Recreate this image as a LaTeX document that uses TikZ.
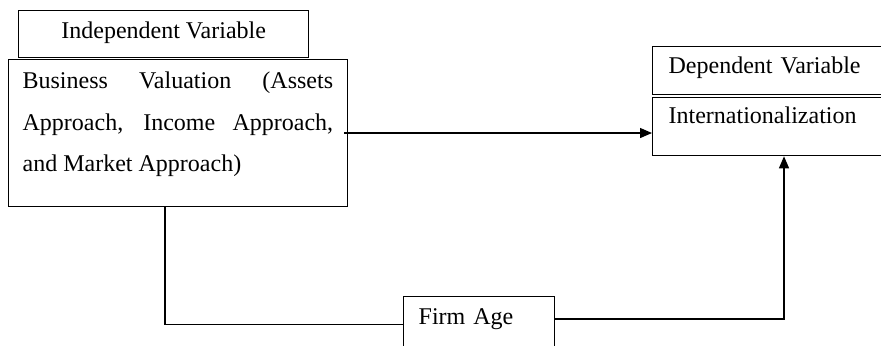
\documentclass[tikz,border=0pt]{standalone}
\usepackage{fontspec}
\setmainfont{Liberation Serif}
\usetikzlibrary{arrows.meta,calc}
\begin{document}
\begin{tikzpicture}[x=0.5pt,y=-0.5pt,
  box/.style={draw=black,line width=0.65pt,inner ysep=0pt,anchor=north west,font=\fontsize{12pt}{20.75pt}\selectfont},
  conn/.style={draw=black,line width=0.65pt},
  arr/.style={conn,-{Triangle[length=6pt,width=5pt]}}]
\useasboundingbox (0,0) rectangle (881,345);
\clip (0,0) rectangle (881,345);
\node[box,minimum width=145pt,inner xsep=0pt,text height=14pt,text depth=9.5pt] (indep) at (18,10) {Independent Variable};
\node[box,inner xsep=7.25pt,text height=14.5pt,text depth=59pt] (biz) at (7.5,59)
  {\parbox[t]{155.25pt}{\fontsize{12pt}{20.75pt}\selectfont Business Valuation (Assets\linebreak Approach, Income Approach,\linebreak and Market Approach)}};
\node[box,inner xsep=8pt,text width=108pt,align=left,text height=13.5pt,text depth=10.5pt] (dep) at (652,46) {Dependent Variable};
\node[box,inner xsep=8pt,text width=108pt,align=left,text height=13pt,text depth=16pt] (intl) at (652,97) {Internationalization};
\node[box,inner xsep=7.5pt,text width=60.5pt,align=left,text height=14pt,text depth=20pt] (fa) at (403,296) {Firm Age};
\coordinate (a1) at ($(biz.north east)+(-4,74)$);
\draw[arr] (a1) -- (a1 -| intl.west);
\coordinate (b1) at ($(biz.south west)+(157.5,0)$);
\draw[conn] (b1) |- (fa.base west);
\coordinate (c1) at ($(fa.north east)+(0,23)$);
\coordinate (c2) at ($(intl.south west)+(132,0)$);
\draw[arr] (c1) -| (c2);
\end{tikzpicture}
\end{document}
